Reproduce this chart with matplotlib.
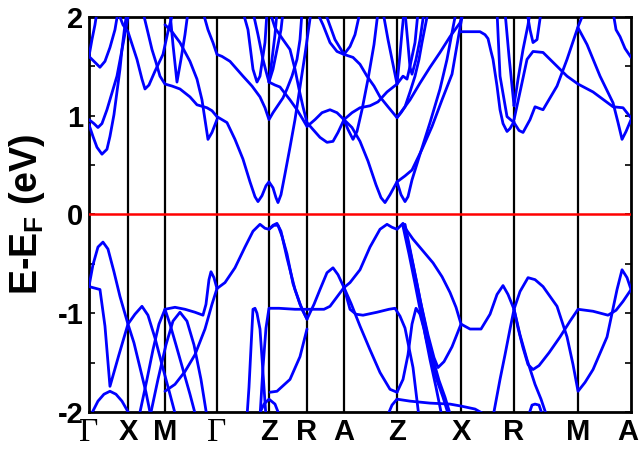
import matplotlib
matplotlib.use("Agg")
import matplotlib.pyplot as plt
import matplotlib.transforms as mtransforms
from matplotlib.ticker import MultipleLocator

plt.rcParams['font.family'] = ['Liberation Sans', 'DejaVu Sans']
plt.rcParams['mathtext.fontset'] = 'custom'
plt.rcParams['mathtext.rm'] = 'Liberation Sans'
plt.rcParams['mathtext.bf'] = 'Liberation Sans:bold'

# high-symmetry points along the k-path (path length, arbitrary units)
kpoint_pos = [0, 39, 76, 128, 180, 218, 255, 308, 372, 425, 489, 542]
kpoint_labels = ['Γ', 'X', 'M', 'Γ', 'Z', 'R', 'A', 'Z', 'X', 'R', 'M', 'A']

# ---------------- valence bands (k, E - E_F in eV) ----------------
v1 = [(128, -0.75), (136, -0.69), (146, -0.54), (156, -0.33), (164, -0.17), (171, -0.10),
      (176, -0.14), (180, -0.15), (184, -0.11), (188, -0.09), (192, -0.17), (198, -0.44),
      (206, -0.76), (213, -0.96), (218, -1.06), (225, -0.91), (231, -0.76), (238, -0.59),
      (244, -0.54), (249, -0.61), (255, -0.74), (261, -0.69), (271, -0.56), (281, -0.33),
      (291, -0.15), (298, -0.10), (303, -0.13), (308, -0.15), (311, -0.12), (314, -0.09),
      (317, -0.15), (324, -0.25), (334, -0.37), (344, -0.49), (353, -0.63), (361, -0.79),
      (367, -0.94), (372, -1.11), (381, -1.16), (392, -1.16), (401, -1.01), (408, -0.81),
      (414, -0.72), (419, -0.81), (425, -0.96), (431, -0.78), (439, -0.64), (446, -0.66),
      (454, -0.73), (468, -0.93), (478, -1.24), (484, -1.52), (489, -1.79), (496, -1.70),
      (504, -1.57), (518, -1.24), (528, -0.76), (533, -0.56), (538, -0.64), (542, -0.76)]
v1b = [(180, -0.15), (185, -0.11), (189, -0.11), (193, -0.22), (198, -0.40), (204, -0.70),
       (211, -0.91), (218, -1.06)]
v3 = [(314, -0.11), (318, -0.23), (324, -0.51), (331, -0.86), (339, -1.22), (345, -1.45),
      (349, -1.55), (355, -1.49), (363, -1.34), (372, -1.11)]
v4 = [(314, -0.12), (320, -0.40), (326, -0.70), (331, -0.96), (337, -1.25), (343, -1.50),
      (348, -1.68), (354, -1.85), (360, -2.05)]
v5 = [(316, -0.10), (322, -0.40), (328, -0.70), (333, -0.96), (339, -1.25), (345, -1.50),
      (350, -1.68), (356, -1.85), (362, -2.05)]
v6 = [(0, -0.73), (4, -0.51), (9, -0.33), (14, -0.28), (19, -0.35), (25, -0.58), (31, -0.83),
      (39, -1.11), (46, -1.01), (53, -0.93), (59, -1.02), (66, -1.25), (73, -1.52),
      (81, -1.82), (87, -2.05)]
v7 = [(0, -0.73), (11, -0.76), (16, -1.13), (21, -1.74), (30, -1.42), (39, -1.11),
      (45, -1.30), (51, -1.55), (57, -1.80), (62, -2.05)]
v9 = [(1, -2.05), (9, -1.89), (15, -1.82), (21, -1.79), (27, -1.82), (33, -1.89), (42, -2.05)]
v10 = [(50, -2.05), (58, -1.67), (64, -1.37), (70, -1.11), (76, -0.96), (86, -0.94),
       (96, -0.96), (106, -0.99), (114, -1.02), (117, -0.91), (120, -0.66), (122, -0.58),
       (125, -0.64), (128, -0.75)]
v11 = [(76, -0.96), (81, -1.11), (87, -1.32), (94, -1.57), (101, -1.82), (107, -2.05)]
v12 = [(61, -2.05), (69, -1.67), (77, -1.32), (84, -1.08), (91, -0.99), (98, -1.08),
       (105, -1.32), (112, -1.67), (118, -2.05)]
v13 = [(76, -1.79), (86, -1.72), (96, -1.59), (106, -1.42), (116, -1.16), (123, -0.91),
       (128, -0.75)]
v15 = [(158, -2.05), (160, -1.75), (162, -1.35), (164, -0.96), (166, -0.95), (168, -1.00),
       (171, -1.16), (173, -1.45), (175, -1.75), (177, -2.05)]
v16 = [(171, -2.05), (174, -1.55), (177, -1.15), (180, -0.95), (190, -0.95), (206, -0.96),
       (218, -0.96), (235, -0.96), (241, -0.93), (255, -0.74)]
v17 = [(181, -1.80), (188, -1.79), (201, -1.67), (211, -1.44), (218, -1.16)]
v18 = [(255, -0.74), (258, -0.85), (261, -0.96), (267, -1.01), (274, -1.02), (288, -0.99),
       (300, -0.96), (306, -0.95), (311, -1.03), (316, -1.15), (320, -1.35), (324, -1.55),
       (329, -1.97), (330, -2.05)]
v19 = [(255, -0.74), (262, -0.90), (271, -1.13), (281, -1.37), (291, -1.60), (301, -1.77),
       (308, -1.80)]
v20 = [(308, -1.80), (314, -1.67), (319, -1.42), (323, -1.11), (327, -0.95), (331, -1.01),
       (335, -1.16), (341, -1.47), (347, -1.75), (353, -2.05)]
v21 = [(308, -1.87), (321, -1.89), (341, -1.91), (361, -1.92), (372, -1.94), (386, -1.97),
       (400, -2.05)]
v_z1 = [(169, -2.05), (175, -1.92), (180, -1.87), (186, -1.92), (191, -2.05)]
v_z2 = [(298, -2.05), (303, -1.93), (308, -1.87)]
v22 = [(425, -0.96), (429, -1.15), (434, -1.35), (439, -1.52), (444, -1.57), (450, -1.53),
       (460, -1.40), (471, -1.24), (481, -1.08), (489, -0.96), (504, -0.98), (519, -1.02),
       (527, -0.97), (534, -0.88), (542, -0.76)]
v23 = [(425, -0.96), (431, -1.22), (438, -1.47), (446, -1.72), (452, -1.87), (458, -2.05)]
v24 = [(404, -2.05), (411, -1.67), (416, -1.42), (421, -1.16), (425, -0.96)]
v26 = [(439, -2.05), (443, -1.93), (446, -1.92), (450, -1.93), (454, -2.05)]

# ---------------- conduction bands ----------------
c0 = [(0, 0.91), (4, 0.79), (8, 0.68), (13, 0.61), (18, 0.66), (21, 0.79), (25, 1.01),
      (28, 1.24), (31, 1.47), (33, 1.67), (36, 1.92), (38, 2.05)]
c1 = [(0, 0.96), (5, 0.92), (9, 0.88), (13, 0.92), (18, 1.06), (23, 1.23), (28, 1.40),
      (34, 1.72), (40, 2.05)]
c2 = [(0, 1.60), (5, 1.55), (11, 1.49), (16, 1.55), (21, 1.69), (26, 1.87), (29, 2.05)]
c3 = [(0, 1.60), (3, 1.77), (6, 1.92), (8, 2.05)]
c5 = [(29, 2.05), (34, 1.92), (39, 1.85), (48, 1.57), (53, 1.37), (56, 1.27), (60, 1.31),
      (66, 1.45), (74, 1.62), (79, 1.85), (84, 2.05)]
c6 = [(54, 2.05), (59, 1.84), (63, 1.67), (67, 1.54), (71, 1.40), (76, 1.32), (83, 1.30),
      (91, 1.27), (101, 1.19), (108, 1.11), (118, 1.08), (123, 1.05), (128, 0.99),
      (138, 0.93), (146, 0.76), (154, 0.56), (161, 0.33), (166, 0.18), (169, 0.13),
      (173, 0.19), (177, 0.29), (180, 0.33), (184, 0.27), (187, 0.17), (189, 0.12),
      (192, 0.20), (196, 0.41), (201, 0.68), (206, 0.96), (211, 1.29), (216, 1.62),
      (222, 2.05)]
c7 = [(76, 1.92), (83, 1.85), (91, 1.74), (101, 1.55), (108, 1.37), (113, 1.16),
      (116, 0.96), (119, 0.76), (123, 0.83), (128, 0.96)]
c8 = [(81, 2.05), (84, 1.72), (88, 1.34), (92, 1.57), (96, 1.82), (99, 2.05)]
c9 = [(114, 2.05), (119, 1.87), (124, 1.74), (128, 1.62), (133, 1.60), (141, 1.55),
      (154, 1.40), (163, 1.30), (171, 1.19), (176, 1.08), (180, 0.96), (184, 1.03),
      (188, 1.09), (194, 1.18), (198, 1.27), (203, 1.40), (208, 1.57), (211, 1.77),
      (213, 2.05)]
c11 = [(154, 2.05), (159, 1.87), (164, 1.47), (168, 1.34), (171, 1.40), (176, 1.74),
       (178, 2.05)]
c12 = [(164, 2.05), (169, 1.82), (174, 1.57), (177, 1.45), (180, 1.34), (186, 1.31),
       (191, 1.29), (201, 1.16), (208, 1.06), (214, 0.96), (218, 0.89), (226, 0.96),
       (233, 1.03), (241, 1.06), (248, 1.03), (255, 0.96)]
c13 = [(180, 1.34), (184, 1.47), (188, 1.67), (192, 1.87), (194, 2.05)]
c13b = [(180, 1.34), (183, 1.57), (186, 1.82), (188, 2.05)]
c15 = [(181, 2.05), (186, 1.89), (194, 1.77), (201, 1.67), (206, 1.47), (210, 1.27),
       (214, 1.09), (218, 0.93), (224, 0.86), (231, 0.78), (238, 0.73), (244, 0.74),
       (249, 0.83), (255, 0.96)]
c16 = [(228, 2.05), (234, 1.92), (241, 1.74), (248, 1.65), (255, 1.62), (261, 1.70),
       (266, 1.82), (271, 2.05)]
c16b = [(236, 2.05), (246, 1.77), (255, 1.62)]
c17 = [(255, 1.62), (264, 1.59), (271, 1.52), (278, 1.40), (285, 1.30), (291, 1.19),
       (299, 1.09), (308, 0.98), (312, 1.03), (316, 1.09), (321, 1.24), (326, 1.40),
       (330, 1.57), (333, 1.74), (339, 2.05)]
c18 = [(255, 0.96), (263, 1.03), (271, 1.08), (281, 1.10), (289, 1.14), (298, 1.24),
       (308, 1.32), (314, 1.40), (318, 1.37), (321, 1.50), (326, 1.74), (329, 2.05)]
c19 = [(255, 0.96), (259, 0.86), (264, 0.76), (268, 0.84), (273, 1.06), (279, 1.37),
       (285, 1.72), (289, 2.05)]
c20 = [(255, 0.96), (263, 0.88), (271, 0.74), (279, 0.54), (287, 0.30), (292, 0.17),
       (296, 0.12), (301, 0.20), (308, 0.33), (312, 0.20), (316, 0.13), (319, 0.18),
       (323, 0.35), (331, 0.61), (341, 0.93), (351, 1.27), (358, 1.57), (363, 1.84),
       (367, 2.05)]
c21 = [(308, 0.33), (316, 0.39), (323, 0.45), (333, 0.66), (343, 0.89), (353, 1.16),
       (363, 1.42), (371, 1.89), (374, 2.05)]
c22 = [(294, 2.05), (299, 1.77), (304, 1.52), (308, 1.32)]
c23 = [(308, 1.32), (311, 1.62), (313, 1.85), (315, 2.05)]
c25 = [(316, 2.05), (319, 1.72), (321, 1.49), (323, 1.42), (327, 1.57), (331, 1.77),
       (335, 2.05)]
c36 = [(308, 0.98), (321, 1.16), (331, 1.33), (341, 1.49), (351, 1.64), (361, 1.80),
       (371, 1.94), (374, 2.05)]
c26 = [(372, 1.85), (381, 1.85), (391, 1.85), (396, 1.82), (399, 1.78), (402, 1.65),
       (404, 1.57), (408, 1.30), (411, 1.06), (414, 0.92), (418, 0.84), (421, 0.87),
       (425, 0.94)]
c27 = [(408, 2.05), (411, 1.40), (418, 0.99), (425, 0.93), (430, 0.85), (434, 0.83),
       (441, 0.96), (446, 1.09), (454, 1.06), (468, 1.30), (478, 1.57), (489, 1.90),
       (495, 2.05)]
c28 = [(425, 0.96), (431, 1.24), (438, 1.57), (444, 1.65), (454, 1.64), (468, 1.50),
       (478, 1.40), (489, 1.32), (504, 1.24), (524, 1.09), (534, 1.08), (541, 0.99),
       (542, 0.98)]
c29 = [(416, 2.05), (420, 1.60), (425, 1.10)]
c30 = [(425, 1.10), (429, 1.37), (434, 1.67), (439, 1.92), (441, 2.05)]
c31 = [(438, 2.05), (441, 1.87), (444, 1.74), (448, 1.77), (452, 2.05)]
c32 = [(489, 1.89), (498, 1.72), (511, 1.40), (524, 1.13), (529, 0.93), (533, 0.76),
       (537, 0.84), (542, 0.96)]
c33 = [(524, 2.05), (527, 1.87), (531, 1.80), (536, 1.68), (542, 1.59)]

bands = [v1, v1b, v3, v4, v5, v6, v7, v9, v10, v11, v12, v13, v15, v16, v17, v18, v19,
         v20, v21, v_z1, v_z2, v22, v23, v24, v26,
         c0, c1, c2, c3, c5, c6, c7, c8, c9, c11, c12, c13, c13b, c15, c16, c16b, c17,
         c18, c19, c20, c21, c22, c23, c25, c36, c26, c27, c28, c29, c30, c31, c32, c33]

fig = plt.figure(figsize=(6.4, 4.49), dpi=100)
ax = fig.add_axes([0.139, 0.0824, 0.847, 0.880])

for band in bands:
    ks, es = zip(*band)
    ax.plot(ks, es, color='#0000ff', lw=2.0, solid_capstyle='round',
            solid_joinstyle='round', zorder=3)

for kp in kpoint_pos[1:-1]:
    ax.axvline(kp, color='black', lw=1.6, zorder=2)
ax.axhline(0, color='#ff0000', lw=1.8, zorder=4)

ax.set_xlim(kpoint_pos[0], kpoint_pos[-1])
ax.set_ylim(-2, 2)
ax.set_yticks([-2, -1, 0, 1, 2])
ax.set_yticklabels(['-2', '-1', '0', '1', '2'], fontsize=21, fontweight='bold')
ax.yaxis.set_minor_locator(MultipleLocator(0.5))
ax.tick_params(axis='y', which='both', direction='in', left=True, right=True,
               length=4, width=1.2, pad=4)
ax.set_xticks(kpoint_pos)
ax.set_xticklabels(kpoint_labels, fontsize=21, fontweight='bold')
ax.tick_params(axis='x', length=0, pad=4)
xlabels = ax.get_xticklabels()
for lab in xlabels:
    if lab.get_text() == 'Γ':
        lab.set_fontfamily(['Liberation Serif', 'DejaVu Serif'])
        lab.set_fontweight('normal')
        lab.set_fontsize(24)
# keep the last label inside the canvas
last = xlabels[-1]
last.set_horizontalalignment('right')
last.set_transform(last.get_transform() +
                   mtransforms.ScaledTranslation(7 / 100, 0, fig.dpi_scale_trans))
for s in ax.spines.values():
    s.set_linewidth(2)

ax.set_ylabel(r'E-E$_\mathbf{F}$ (eV)', fontsize=27, fontweight='bold', labelpad=8)

fig.savefig('out.png', dpi=100)
